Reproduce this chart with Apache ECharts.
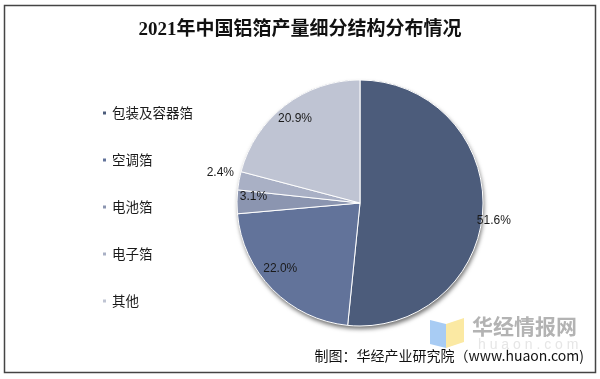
<!DOCTYPE html>
<html>
<head>
<meta charset="utf-8">
<script src="https://cdn.jsdelivr.net/npm/echarts@6/dist/echarts.min.js"></script>
<style>
html,body{margin:0;padding:0;background:#fff;}
#c{width:600px;height:379px;}
</style>
</head>
<body>
<div id="c"></div>
<script>
var titleText = '2021年中国铝箔产量细分结构分布情况';
var categories = ['包装及容器箔', '空调箔', '电池箔', '电子箔', '其他'];
var values = [51.6, 22.0, 3.1, 2.4, 20.9];
var colors = ['#4c5c7b', '#62739a', '#8b95b0', '#a9b0c5', '#bfc4d3'];
var sourceText = '制图：华经产业研究院（www.huaon.com)';

var chart = echarts.init(document.getElementById('c'), null, {renderer: 'canvas'});

var center = [360, 203];
var R = 123;

var mainData = categories.map(function (n, i) {
  return {name: n, value: values[i], itemStyle: {color: colors[i]}};
});

var labelData = categories.map(function (n, i) {
  var d = {name: n, value: values[i]};
  if (i === 0) {
    d.label = {position: 'outside', distanceToLabelLine: -6};
  } else if (i === 3) {
    d.label = {position: 'outside', distanceToLabelLine: 5};
  }
  return d;
});

var option = {
  animation: false,
  backgroundColor: '#fff',
  title: {
    text: titleText,
    left: 'center',
    top: 16,
    textStyle: {
      fontFamily: '"Liberation Serif","Noto Sans CJK SC",serif',
      fontSize: 19,
      fontWeight: 'bold',
      color: '#111'
    }
  },
  legend: {
    orient: 'vertical',
    left: 96,
    top: 101,
    icon: 'rect',
    itemWidth: 5,
    itemHeight: 5,
    itemGap: 33,
    data: categories,
    textStyle: {
      fontFamily: '"Noto Sans CJK SC",sans-serif',
      fontSize: 13.5,
      lineHeight: 14,
      color: '#1a1a1a'
    }
  },
  graphic: [
    {
      type: 'rect',
      shape: {x: 4.5, y: 5.5, width: 591, height: 367},
      style: {fill: 'none', stroke: '#444', lineWidth: 1.5},
      silent: true, z: 100
    },
    {
      type: 'polygon',
      shape: {points: [[430, 320], [446, 324], [446, 348], [430, 344]]},
      style: {fill: '#a8ccf4'},
      silent: true
    },
    {
      type: 'polygon',
      shape: {points: [[446, 324], [464, 318], [464, 342], [446, 348]]},
      style: {fill: '#fbe9a3'},
      silent: true
    },
    {
      type: 'text',
      left: 472,
      top: 316,
      style: {
        text: '华经情报网',
        font: 'bold 21px "Noto Sans CJK SC"',
        fill: '#b3b3b3'
      },
      silent: true
    },
    {
      type: 'text',
      left: 478,
      top: 338,
      style: {
        text: 'h u a o n . c o m',
        font: '14px "Liberation Sans"',
        fill: '#e6e6e6'
      },
      silent: true
    },
    {
      type: 'text',
      right: 16,
      top: 349,
      style: {
        text: sourceText,
        font: '14px "Noto Sans CJK SC"',
        fill: '#111'
      },
      silent: true,
      z: 50
    }
  ],
  series: [
    {
      name: 'shadow',
      type: 'pie',
      center: center,
      radius: [0, R],
      silent: true,
      legendHoverLink: false,
      label: {show: false},
      z: 1,
      data: [{name: '', value: 1, itemStyle: {color: '#3a4660', shadowBlur: 4, shadowOffsetX: 1, shadowOffsetY: 3, shadowColor: 'rgba(0,0,0,0.55)'}}]
    },
    {
      name: '产量结构',
      type: 'pie',
      center: center,
      radius: [0, R],
      startAngle: 90,
      clockwise: true,
      z: 2,
      label: {show: false},
      labelLine: {show: false},
      itemStyle: {borderColor: '#fff', borderWidth: 1},
      data: mainData
    },
    {
      name: 'labels',
      type: 'pie',
      center: center,
      radius: [84, R],
      startAngle: 90,
      clockwise: true,
      silent: true,
      legendHoverLink: false,
      avoidLabelOverlap: false,
      z: 3,
      itemStyle: {color: 'rgba(0,0,0,0)', borderWidth: 0},
      labelLine: {show: false, length: 0, length2: 0},
      label: {
        show: true,
        position: 'inside',
        formatter: function (p) { return p.value.toFixed(1) + '%'; },
        fontFamily: '"Liberation Sans",Arial,sans-serif',
        fontSize: 12,
        color: '#1a1a1a'
      },
      labelLayout: function (p) {
        if (p.dataIndex === 0) return {dy: 12};
        if (p.dataIndex === 3) return {dy: -8};
        if (p.dataIndex === 1) return {dx: -4, dy: -9};
        if (p.dataIndex === 2) return {dy: -5};
        return {};
      },
      data: labelData
    }
  ]
};

chart.setOption(option);
</script>
</body>
</html>
